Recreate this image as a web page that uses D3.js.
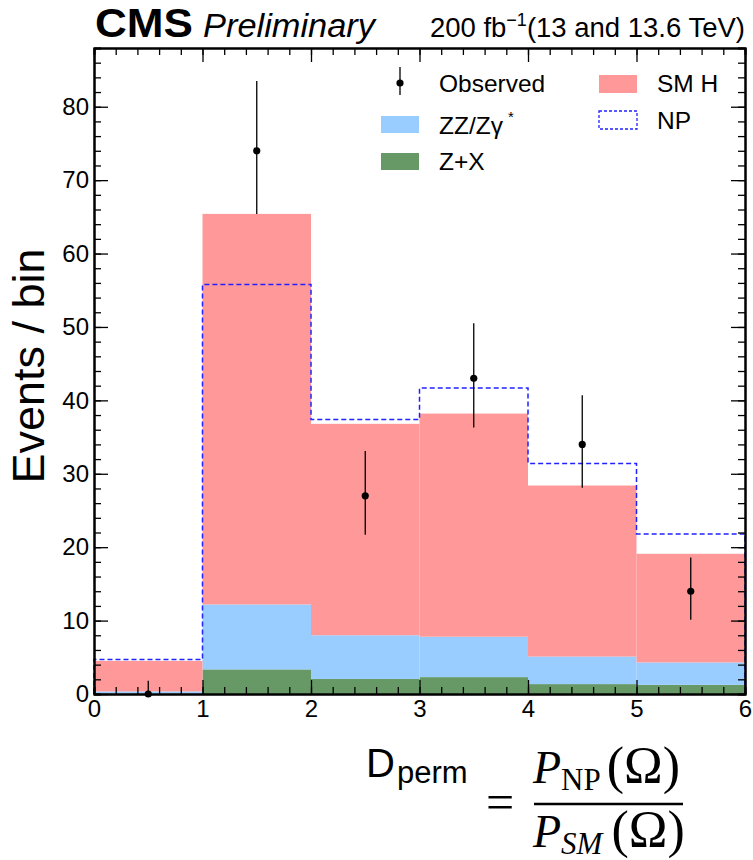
<!doctype html>
<html>
<head>
  <meta charset="utf-8">
  <title>Dperm distribution</title>
  <script src="https://d3js.org/d3.v7.min.js"></script>
  <style>
    body { margin: 0; background: #fff; }
    text { font-family: 'Liberation Sans', Arial, sans-serif; fill: #000; }
    .tick text { font-size: 24px; }
    .math { font-family: 'Liberation Serif', 'DejaVu Serif', serif; }
  </style>
</head>
<body>
  <svg id="chart" width="753" height="860"></svg>
  <script>
    // bins and values
    var binEdges = [0, 1, 2, 3, 4, 5, 6];
    var zxValues = [0.05, 3.35, 2.05, 2.3, 1.35, 1.25];
    var zzValues = [0.3, 8.85, 5.95, 5.5, 3.75, 3.05];
    var smhValues = [4.15, 53.2, 28.8, 30.4, 23.3, 14.8];
    var npValues = [4.7, 55.8, 37.4, 41.7, 31.4, 21.8];
    var obsCenters = [0.5, 1.5, 2.5, 3.5, 4.5, 5.5];
    var obsValues = [0, 74, 27, 43, 34, 14];
    var obsErrLow = [0, 8.6, 5.3, 6.7, 5.9, 3.9];
    var obsErrHigh = [1.8, 9.5, 6.1, 7.5, 6.7, 4.6];
    var xTicks = [0, 1, 2, 3, 4, 5, 6];
    var yTicks = [0, 10, 20, 30, 40, 50, 60, 70, 80];

    var margin = {top: 48, right: 8, bottom: 166, left: 94},
        width = 753 - margin.left - margin.right,
        height = 860 - margin.top - margin.bottom;

    var svg = d3.select("#chart");
    var g = svg.append("g")
        .attr("transform", "translate(" + margin.left + "," + margin.top + ")");

    var x = d3.scaleLinear().domain([0, 6]).range([0, width]);
    var y = d3.scaleLinear().domain([0, 88]).range([height, 0]);

    // stacked backgrounds
    var rows = binEdges.slice(0, -1).map(function(e, i) {
      return {lo: e, hi: binEdges[i + 1], zx: zxValues[i], zz: zzValues[i], smh: smhValues[i]};
    });
    var keys = ["zx", "zz", "smh"];
    var colors = {zx: "#669966", zz: "#99ccff", smh: "#ff9999"};
    var stacked = d3.stack().keys(keys)(rows);

    g.selectAll("g.layer")
      .data(stacked)
      .enter().append("g")
      .attr("class", "layer")
      .attr("fill", function(d) { return colors[d.key]; })
      .selectAll("rect")
      .data(function(d) { return d; })
      .enter().append("rect")
      .attr("x", function(d) { return x(d.data.lo); })
      .attr("width", function(d) { return x(d.data.hi) - x(d.data.lo); })
      .attr("y", function(d) { return y(d[1]); })
      .attr("height", function(d) { return y(d[0]) - y(d[1]); });

    // NP outline
    var npPts = [[binEdges[0], 0]];
    npValues.forEach(function(v, i) {
      npPts.push([binEdges[i], v]);
      npPts.push([binEdges[i + 1], v]);
    });
    npPts.push([binEdges[binEdges.length - 1], 0]);
    g.append("path")
      .attr("d", d3.line().x(function(d) { return x(d[0]); }).y(function(d) { return y(d[1]); })(npPts))
      .attr("fill", "none")
      .attr("stroke", "#2222ff")
      .attr("stroke-width", 1.5)
      .attr("stroke-dasharray", "5,3");

    // observed
    g.selectAll("line.err")
      .data(obsValues)
      .enter().append("line")
      .attr("class", "err")
      .attr("x1", function(d, i) { return x(obsCenters[i]); })
      .attr("x2", function(d, i) { return x(obsCenters[i]); })
      .attr("y1", function(d, i) { return y(d - obsErrLow[i]); })
      .attr("y2", function(d, i) { return y(d + obsErrHigh[i]); })
      .attr("stroke", "black")
      .attr("stroke-width", 1.3);
    g.selectAll("circle.obs")
      .data(obsValues)
      .enter().append("circle")
      .attr("class", "obs")
      .attr("cx", function(d, i) { return x(obsCenters[i]); })
      .attr("cy", function(d) { return y(d); })
      .attr("r", 3.6)
      .attr("fill", "black");

    // axes, ticks pointing inward on all four sides
    function styleAxis(sel) {
      sel.select(".domain").attr("stroke", "black").attr("stroke-width", 2);
      sel.selectAll(".tick line").attr("stroke", "black").attr("stroke-width", 1.3);
    }
    var xMinor = d3.range(0, 6.001, 0.2);
    var yMinor = d3.range(0, 88.001, 2);

    g.append("g").attr("transform", "translate(0," + height + ")")
      .call(d3.axisBottom(x).tickValues(xMinor).tickSize(-7).tickFormat(""))
      .call(styleAxis);
    g.append("g").attr("transform", "translate(0," + height + ")")
      .call(d3.axisBottom(x).tickValues(xTicks).tickSizeInner(-14).tickSizeOuter(0).tickPadding(6).tickFormat(d3.format("d")))
      .call(styleAxis);
    g.append("g")
      .call(d3.axisTop(x).tickValues(xMinor).tickSize(-7).tickFormat(""))
      .call(styleAxis);
    g.append("g")
      .call(d3.axisTop(x).tickValues(xTicks).tickSizeInner(-14).tickSizeOuter(0).tickFormat(""))
      .call(styleAxis);

    g.append("g")
      .call(d3.axisLeft(y).tickValues(yMinor).tickSize(-7).tickFormat(""))
      .call(styleAxis);
    g.append("g")
      .call(d3.axisLeft(y).tickValues(yTicks).tickSizeInner(-14).tickSizeOuter(0).tickPadding(5).tickFormat(d3.format("d")))
      .call(styleAxis);
    g.append("g").attr("transform", "translate(" + width + ",0)")
      .call(d3.axisRight(y).tickValues(yMinor).tickSize(-7).tickFormat(""))
      .call(styleAxis);
    g.append("g").attr("transform", "translate(" + width + ",0)")
      .call(d3.axisRight(y).tickValues(yTicks).tickSizeInner(-14).tickSizeOuter(0).tickFormat(""))
      .call(styleAxis);
    g.selectAll(".tick text").attr("font-size", 24).attr("font-family", "'Liberation Sans', Arial, sans-serif");

    // y label
    svg.append("text")
      .attr("transform", "translate(44,366) rotate(-90)")
      .attr("text-anchor", "middle")
      .attr("font-size", 45)
      .text("Events / bin");

    // header
    svg.append("text").attr("x", 95).attr("y", 37)
      .attr("font-size", 41).attr("font-weight", "bold")
      .attr("textLength", 98).attr("lengthAdjust", "spacingAndGlyphs").text("CMS");
    svg.append("text").attr("x", 203).attr("y", 37)
      .attr("font-size", 33).attr("font-style", "italic")
      .attr("textLength", 172).attr("lengthAdjust", "spacingAndGlyphs").text("Preliminary");
    var lumi = svg.append("text").attr("x", 745).attr("y", 37)
      .attr("font-size", 27.5).attr("text-anchor", "end");
    lumi.append("tspan").text("200 fb");
    lumi.append("tspan").attr("font-size", 18).attr("dy", -11).text("\u22121");
    lumi.append("tspan").attr("dy", 11).text("(13 and 13.6 TeV)");

    // legend
    var lg = svg.append("g").attr("font-size", 24.5);
    lg.append("line").attr("x1", 400).attr("x2", 400).attr("y1", 67).attr("y2", 95)
      .attr("stroke", "black").attr("stroke-width", 1.3);
    lg.append("circle").attr("cx", 400).attr("cy", 83).attr("r", 3.6).attr("fill", "black");
    lg.append("text").attr("x", 439).attr("y", 92).text("Observed");

    lg.append("rect").attr("x", 381).attr("y", 116).attr("width", 38).attr("height", 17).attr("fill", colors.zz);
    var zzt = lg.append("text").attr("x", 439).attr("y", 134);
    zzt.append("tspan").text("ZZ/Z\u03b3");
    zzt.append("tspan").attr("dx", 5).attr("dy", -12).attr("font-size", 15).text("*");

    lg.append("rect").attr("x", 381).attr("y", 153).attr("width", 38).attr("height", 17).attr("fill", colors.zx);
    lg.append("text").attr("x", 439).attr("y", 170).text("Z+X");

    lg.append("rect").attr("x", 599).attr("y", 75).attr("width", 38).attr("height", 18).attr("fill", colors.smh);
    lg.append("text").attr("x", 657).attr("y", 92).text("SM H");

    lg.append("rect").attr("x", 599).attr("y", 111).attr("width", 38).attr("height", 18)
      .attr("fill", "none").attr("stroke", "#2222ff").attr("stroke-width", 1.3).attr("stroke-dasharray", "3,2");
    lg.append("text").attr("x", 657).attr("y", 129).text("NP");

    // x label
    svg.append("text").attr("x", 366).attr("y", 777).attr("font-size", 40).text("D");
    svg.append("text").attr("x", 397).attr("y", 783).attr("font-size", 31).text("perm");
    svg.append("text").attr("class", "math").attr("x", 486).attr("y", 819).attr("font-size", 50).text("=");
    svg.append("line").attr("x1", 534).attr("x2", 683).attr("y1", 804).attr("y2", 804)
      .attr("stroke", "black").attr("stroke-width", 2.5);

    var num = svg.append("text").attr("class", "math").attr("x", 533).attr("y", 783).attr("font-size", 46);
    num.append("tspan").attr("font-style", "italic").text("P");
    num.append("tspan").attr("font-size", 31).attr("dy", 7).text("NP");
    num.append("tspan").attr("dy", -7).attr("dx", 6).attr("font-size", 52).text("(\u03a9)");

    var den = svg.append("text").attr("class", "math").attr("x", 533).attr("y", 847).attr("font-size", 46);
    den.append("tspan").attr("font-style", "italic").text("P");
    den.append("tspan").attr("font-size", 31).attr("font-style", "italic").attr("dy", 7).text("SM");
    den.append("tspan").attr("dy", -7).attr("dx", 9).attr("font-size", 52).text("(\u03a9)");
  </script>
</body>
</html>
